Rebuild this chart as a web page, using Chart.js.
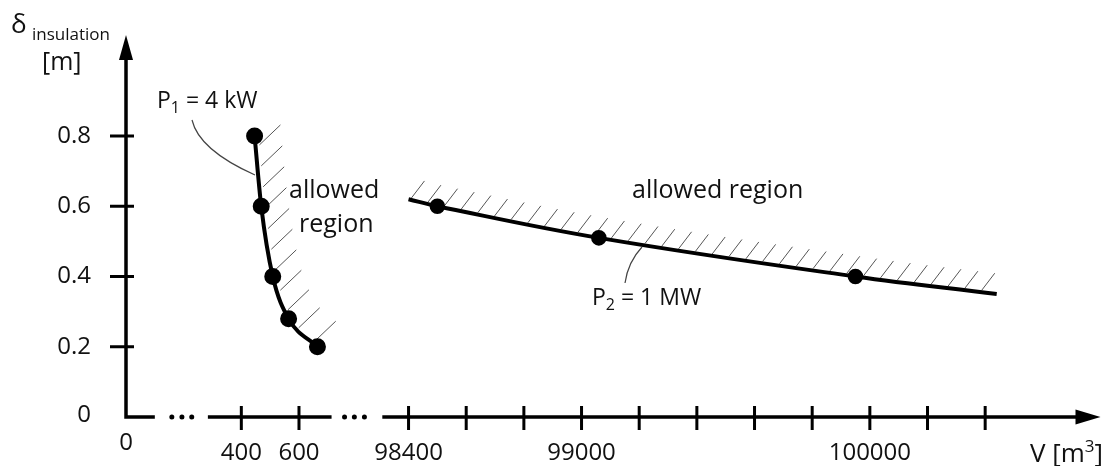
<!DOCTYPE html>
<html>
<head>
<meta charset="utf-8">
<script src="https://cdn.jsdelivr.net/npm/chart.js@4.4.1/dist/chart.umd.min.js"></script>
<style>
html,body{margin:0;padding:0;background:#fff;}
canvas{display:block;}
</style>
</head>
<body>
<canvas id="chart" width="1111" height="466"></canvas>
<script>

/* ============================= */
/* DATA */
/* ============================= */

// P1 = 4 kW curve, V in m3, delta in m
const p1Volume = [446, 469, 509, 564, 664]
const p1Delta = [0.8, 0.6, 0.4, 0.28, 0.2]

// P2 = 1 MW curve (first and last are the line ends, no dot)
const p2Volume = [98400, 98500, 99060, 99950, 100440]
const p2Delta = [0.62, 0.6, 0.51, 0.4, 0.35]
const p2Dots = [false, true, true, true, false]

const xTickMarks = [400, 600, 98400, 98600, 98800, 99000, 99200, 99400, 99600, 99800, 100000, 100200, 100400]
const xLabelValues = [0, 400, 600, 98400, 99000, 100000]
const xLabels = ["0", "400", "600", "98400", "99000", "100000"]

const yTickMarks = [0.2, 0.4, 0.6, 0.8]
const yLabelValues = [0, 0.2, 0.4, 0.6, 0.8]
const yLabels = ["0", "0.2", "0.4", "0.6", "0.8"]


/* ============================= */
/* BROKEN X AXIS */
/* ============================= */

// everything from 98400 on is pulled left so 98400 sits at 980
const BREAK_AT = 50000
const BREAK_SHIFT = 98400 - 980

function axisPos(v){
return v < BREAK_AT ? v : v - BREAK_SHIFT
}

// solid pieces of the x axis and the "..." dots, in axis units
const xSegments = [[0, 100], [284, 713], [889, null]]
const xDots = [159, 194, 228, 758, 792, 827]

const FONT = '"Open Sans", "DejaVu Sans", sans-serif'


/* ============================= */
/* HELPERS */
/* ============================= */

function curvePoints(pts){
const out = []
for(let i=0;i<pts.length-1;i++){
const a = pts[i], b = pts[i+1]
const c1x = a.cp2x ?? a.x, c1y = a.cp2y ?? a.y
const c2x = b.cp1x ?? b.x, c2y = b.cp1y ?? b.y
for(let k=0;k<24;k++){
const t = k/24, u = 1-t
out.push({
x: u*u*u*a.x + 3*u*u*t*c1x + 3*u*t*t*c2x + t*t*t*b.x,
y: u*u*u*a.y + 3*u*u*t*c1y + 3*u*t*t*c2y + t*t*t*b.y
})
}
}
out.push({x: pts[pts.length-1].x, y: pts[pts.length-1].y})
return out
}

function drawHatch(ctx, pts, h){
let acc = h.start
ctx.beginPath()
for(let i=0;i<pts.length-1;i++){
const a = pts[i], b = pts[i+1]
const len = Math.hypot(b.x-a.x, b.y-a.y)
while(acc <= len){
const t = acc/len
const x = a.x + (b.x-a.x)*t + h.ox
const y = a.y + (b.y-a.y)*t + h.oy
ctx.moveTo(x, y)
ctx.lineTo(x + h.dx, y + h.dy)
acc += h.step
}
acc -= len
}
ctx.stroke()
}

function textRuns(ctx, x, y, parts){
parts.forEach(([t, size, dy])=>{
ctx.font = size + "px " + FONT
ctx.fillText(t, x, y + (dy || 0))
x += ctx.measureText(t).width
})
}


/* ============================= */
/* SKETCH PLUGIN */
/* ============================= */

const sketchPlugin = {
id: "sketch",

beforeDatasetsDraw(chart){
const ctx = chart.ctx
const xs = chart.scales.x, ys = chart.scales.y
const x0 = xs.getPixelForValue(0), y0 = ys.getPixelForValue(0)
const yTop = ys.getPixelForValue(ys.max), xEnd = xs.getPixelForValue(xs.max)

ctx.save()

// hatching on the allowed side
ctx.strokeStyle = "#555"
ctx.lineWidth = 1
chart.data.datasets.forEach((ds, i)=>{
if(!ds.hatch) return
drawHatch(ctx, curvePoints(chart.getDatasetMeta(i).data), ds.hatch)
})

// axes
ctx.strokeStyle = "#000"
ctx.fillStyle = "#000"
ctx.lineWidth = 3.5
ctx.lineJoin = "miter"

ctx.beginPath()
ctx.moveTo(x0, yTop + 20)
ctx.lineTo(x0, y0)
ctx.lineTo(xs.getPixelForValue(xSegments[0][1]), y0)
xSegments.slice(1).forEach(([a, b])=>{
ctx.moveTo(xs.getPixelForValue(a), y0)
ctx.lineTo(b == null ? xEnd - 20 : xs.getPixelForValue(b), y0)
})
ctx.stroke()

// arrow heads
ctx.beginPath()
ctx.moveTo(x0, yTop)
ctx.lineTo(x0 - 7, yTop + 25)
ctx.lineTo(x0 + 7, yTop + 25)
ctx.closePath()
ctx.fill()

ctx.beginPath()
ctx.moveTo(xEnd, y0)
ctx.lineTo(xEnd - 25, y0 - 7.5)
ctx.lineTo(xEnd - 25, y0 + 7.5)
ctx.closePath()
ctx.fill()

// break dots
xDots.forEach(v=>{
ctx.beginPath()
ctx.arc(xs.getPixelForValue(v), y0, 2.5, 0, Math.PI*2)
ctx.fill()
})

// tick marks, crossing the axes
ctx.lineWidth = 3
ctx.beginPath()
xTickMarks.forEach(v=>{
const px = xs.getPixelForValue(axisPos(v))
ctx.moveTo(px, y0 - 11)
ctx.lineTo(px, y0 + 13)
})
yTickMarks.forEach(v=>{
const py = ys.getPixelForValue(v)
ctx.moveTo(x0 - 16, py)
ctx.lineTo(x0 + 8, py)
})
ctx.stroke()

ctx.restore()
},

afterDatasetsDraw(chart){
const ctx = chart.ctx
const xs = chart.scales.x, ys = chart.scales.y
const x0 = xs.getPixelForValue(0), y0 = ys.getPixelForValue(0)

ctx.save()
ctx.fillStyle = "#111"

// tick labels
ctx.font = "24px " + FONT
ctx.textAlign = "right"
ctx.textBaseline = "middle"
yLabelValues.forEach((v, i)=>{
const py = v === 0 ? y0 - 2 : ys.getPixelForValue(v)
ctx.fillText(yLabels[i], x0 - 35, py)
})

ctx.textAlign = "center"
ctx.textBaseline = "alphabetic"
xLabelValues.forEach((v, i)=>{
const px = xs.getPixelForValue(axisPos(v))
ctx.fillText(xLabels[i], px, v === 0 ? y0 + 33 : y0 + 43)
})

// axis titles
ctx.textAlign = "left"
textRuns(ctx, 11, 33, [["\u03b4", 26]])
textRuns(ctx, 32, 40, [["insulation", 17]])
textRuns(ctx, 42, 70, [["[m]", 25]])
textRuns(ctx, 1030, 462, [["V [m", 26], ["3", 17, -10], ["]", 26]])

// region and power labels
ctx.font = "25px " + FONT
ctx.fillText("allowed", 289, 198)
ctx.fillText("region", 299, 232)
ctx.fillText("allowed region", 632, 198)
textRuns(ctx, 157, 108, [["P", 23], ["1", 16, 5], [" = 4 kW", 23]])
textRuns(ctx, 592, 305, [["P", 23], ["2", 16, 5], [" = 1 MW", 23]])

// leader lines
ctx.strokeStyle = "#444"
ctx.lineWidth = 1.2
ctx.beginPath()
ctx.moveTo(192, 120)
ctx.quadraticCurveTo(199, 150, 255, 175)
ctx.moveTo(642, 247)
ctx.quadraticCurveTo(628, 262, 625, 283)
ctx.stroke()

ctx.restore()
}
}


/* ============================= */
/* CHART */
/* ============================= */

const chart = new Chart(
document.getElementById("chart"),
{
type: "scatter",

data: {
datasets: [
{
label: "P1 = 4 kW",
data: p1Volume.map((v, i)=>({x: axisPos(v), y: p1Delta[i]})),
showLine: true,
borderColor: "#000",
backgroundColor: "#000",
borderWidth: 4,
cubicInterpolationMode: "monotone",
pointRadius: 6.5,
pointHoverRadius: 6.5,
clip: false,
hatch: {start: 9, step: 21, dx: 21, dy: -20, ox: 4, oy: 0}
},
{
label: "P2 = 1 MW",
data: p2Volume.map((v, i)=>({x: axisPos(v), y: p2Delta[i]})),
showLine: true,
borderColor: "#000",
backgroundColor: "#000",
borderWidth: 4,
tension: 0.4,
pointRadius: p2Dots.map(d => d ? 5.8 : 0),
pointHoverRadius: p2Dots.map(d => d ? 5.8 : 0),
clip: false,
hatch: {start: 3, step: 17, dx: 13, dy: -17, ox: 0, oy: -2}
}
]
},

options: {
responsive: false,
animation: false,
devicePixelRatio: 1,
events: [],
layout: {padding: {left: 126, right: 8, top: 35, bottom: 49}},
plugins: {legend: {display: false}, tooltip: {enabled: false}},
scales: {
x: {type: "linear", min: 0, max: 3380, display: false},
y: {type: "linear", min: 0, max: 1.0875, display: false}
}
},

plugins: [sketchPlugin]
})

</script>
</body>
</html>
